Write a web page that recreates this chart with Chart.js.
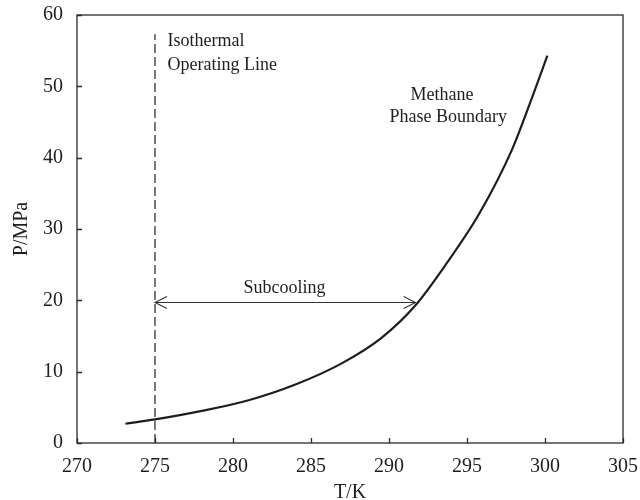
<!DOCTYPE html>
<html>
<head>
<meta charset="utf-8">
<script src="https://cdn.jsdelivr.net/npm/chart.js@4.4.1/dist/chart.umd.min.js"></script>
<style>
  html, body { margin: 0; padding: 0; background: #fff; }
  #wrap { width: 640px; height: 500px; }
</style>
</head>
<body>
<div id="wrap"><canvas id="c" width="640" height="500"></canvas></div>
<script>
// Methane hydrate phase boundary (temperature in K, pressure in MPa)
const boundaryT = [273.1, 275.0, 278.0, 281.0, 284.0, 287.0, 289.5, 291.7, 293.7, 295.8, 297.9, 299.2, 300.15];
const boundaryP = [2.7, 3.3, 4.5, 6.0, 8.2, 11.2, 14.7, 19.3, 25.2, 32.2, 41.2, 48.6, 54.3];

// Isothermal operating line at 275 K
const operatingT = [275, 275];
const operatingP = [0, 57.3];

// Subcooling arrow between the operating line and the boundary
const subcoolT = [275, 291.7];
const subcoolP = [19.7, 19.7];

// Axis ticks
const xTicks = [270, 275, 280, 285, 290, 295, 300, 305];
const yTicks = [0, 10, 20, 30, 40, 50, 60];

// Text annotations placed in data coordinates
const notes = [
  { text: 'Isothermal', t: 275.8, p: 56.3, align: 'left' },
  { text: 'Operating Line', t: 275.8, p: 53.0, align: 'left' },
  { text: 'Methane', t: 293.4, p: 48.8, align: 'center' },
  { text: 'Phase Boundary', t: 293.8, p: 45.6, align: 'center' },
  { text: 'Subcooling', t: 283.3, p: 21.7, align: 'center' }
];

const pts = (xs, ys) => xs.map((x, i) => ({ x: x, y: ys[i] }));
const INK = '#1e1e1e';
const SERIF = '"Liberation Serif", "DejaVu Serif", serif';

// keep the plot area fixed by ignoring label overflow padding
function fixPadding(s) {
  s.paddingLeft = 0; s.paddingRight = 0; s.paddingTop = 0; s.paddingBottom = 0;
}

const framePlugin = {
  id: 'frame',
  afterDatasetsDraw(chart) {
    const { ctx, chartArea: a, scales: { x, y } } = chart;
    ctx.save();
    // plot frame
    ctx.strokeStyle = '#2a2a2a';
    ctx.lineWidth = 1.3;
    ctx.strokeRect(a.left, a.top, a.right - a.left, a.bottom - a.top);
    // inward tick marks
    ctx.beginPath();
    xTicks.forEach(v => {
      const px = Math.round(x.getPixelForValue(v)) + 0.5;
      ctx.moveTo(px, a.bottom);
      ctx.lineTo(px, a.bottom - 5);
    });
    yTicks.forEach(v => {
      const py = Math.round(y.getPixelForValue(v)) + 0.5;
      ctx.moveTo(a.left, py);
      ctx.lineTo(a.left + 5, py);
    });
    ctx.stroke();

    // arrow heads on the subcooling line
    const drawHead = (tx, ty, dir) => {
      const hx = x.getPixelForValue(tx);
      const hy = y.getPixelForValue(ty);
      ctx.beginPath();
      ctx.moveTo(hx - dir * 12, hy - 6);
      ctx.lineTo(hx, hy);
      ctx.lineTo(hx - dir * 12, hy + 6);
      ctx.strokeStyle = '#333';
      ctx.lineWidth = 1.1;
      ctx.stroke();
    };
    drawHead(subcoolT[0], subcoolP[0], -1);
    drawHead(subcoolT[1], subcoolP[1], 1);

    // annotations
    ctx.fillStyle = INK;
    ctx.font = '18px ' + SERIF;
    ctx.textBaseline = 'middle';
    notes.forEach(n => {
      ctx.textAlign = n.align;
      ctx.fillText(n.text, x.getPixelForValue(n.t), y.getPixelForValue(n.p));
    });
    ctx.restore();
  }
};

new Chart(document.getElementById('c'), {
  type: 'scatter',
  data: {
    datasets: [
      {
        label: 'Methane Phase Boundary',
        data: pts(boundaryT, boundaryP),
        showLine: true,
        borderColor: INK,
        borderWidth: 2.2,
        pointRadius: 0,
        cubicInterpolationMode: 'monotone'
      },
      {
        label: 'Isothermal Operating Line',
        data: pts(operatingT, operatingP),
        showLine: true,
        borderColor: INK,
        borderWidth: 1.2,
        borderDash: [9, 4],
        pointRadius: 0
      },
      {
        label: 'Subcooling',
        data: pts(subcoolT, subcoolP),
        showLine: true,
        borderColor: '#333',
        borderWidth: 1.1,
        pointRadius: 0
      }
    ]
  },
  options: {
    responsive: false,
    animation: false,
    layout: { padding: { top: 15, right: 17, left: 0, bottom: 0 } },
    plugins: {
      legend: { display: false },
      tooltip: { enabled: false }
    },
    scales: {
      x: {
        type: 'linear',
        min: 270,
        max: 305,
        afterBuildTicks(s) { s.ticks = xTicks.map(v => ({ value: v })); },
        afterFit(s) { s.height = 57; fixPadding(s); },
        grid: { display: false, drawTicks: false },
        border: { display: false },
        ticks: { color: INK, padding: 12, font: { family: SERIF, size: 20 }, maxRotation: 0 },
        title: { display: true, text: 'T/K', color: INK, padding: 0, font: { family: SERIF, size: 20, lineHeight: 0.7 } }
      },
      y: {
        type: 'linear',
        min: 0,
        max: 60,
        afterBuildTicks(s) { s.ticks = yTicks.map(v => ({ value: v })); },
        afterFit(s) { s.width = 77; fixPadding(s); },
        grid: { display: false, drawTicks: false },
        border: { display: false },
        ticks: { color: INK, padding: 14, font: { family: SERIF, size: 20 } },
        title: { display: true, text: 'P/MPa', color: INK, padding: { top: 10, bottom: 0 }, font: { family: SERIF, size: 20 } }
      }
    }
  },
  plugins: [framePlugin]
});
</script>
</body>
</html>
